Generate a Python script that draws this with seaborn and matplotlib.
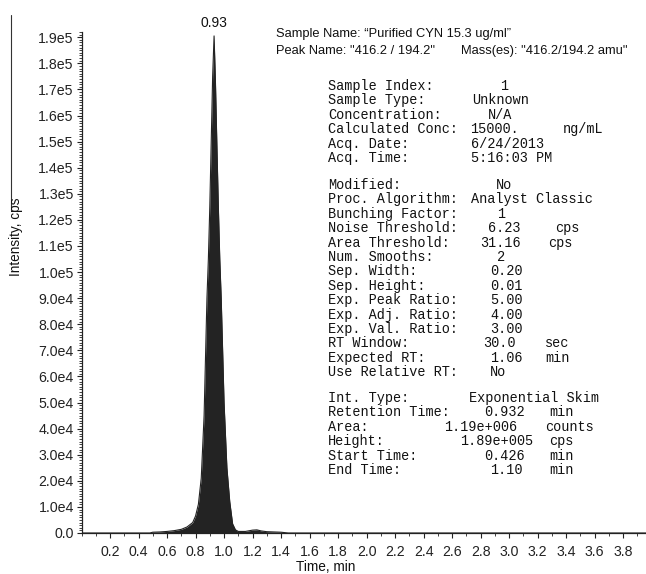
import matplotlib
matplotlib.use("Agg")
import matplotlib.pyplot as plt
import matplotlib.ticker as mticker
from matplotlib.lines import Line2D
import seaborn as sns
import pandas as pd

# Chromatogram (time in min, intensity in cps)
time_min = [0.00, 0.48, 0.50, 0.55, 0.60, 0.65, 0.70, 0.74, 0.78, 0.80,
            0.82, 0.84, 0.86, 0.88, 0.89, 0.90, 0.91, 0.92, 0.93, 0.94,
            0.95, 0.96, 0.97, 0.98, 0.99, 1.00, 1.02, 1.04, 1.06, 1.08,
            1.10, 1.15, 1.20, 1.23, 1.26, 1.30, 1.40, 1.45, 3.96]
intensity_cps = [0, 0, 300, 400, 600, 900, 1400, 2300, 4000, 6500,
                 11000, 21000, 45000, 90000, 105000, 125000, 150000, 175000, 190500, 172000,
                 148000, 125000, 105000, 90000, 70000, 50000, 25000, 12000, 3500, 1200,
                 600, 600, 1100, 1200, 800, 500, 300, 0, 0]
peak_rt = 0.93
peak_label = "0.93"

header_sample = "Sample Name: \u201cPurified CYN 15.3 ug/ml\u201d"
header_peak = 'Peak Name: "416.2 / 194.2"'
header_mass = 'Mass(es): "416.2/194.2 amu"'

# info block: label, value, value x (px), unit, unit x (px)
info_group1 = [
    ("Sample Index:", "1", 500, "", 0),
    ("Sample Type:", "Unknown", 472, "", 0),
    ("Concentration:", "N/A", 488, "", 0),
    ("Calculated Conc:", "15000.", 470, "ng/mL", 563),
    ("Acq. Date:", "6/24/2013", 471, "", 0),
    ("Acq. Time:", "5:16:03 PM", 471, "", 0),
]
info_group2 = [
    ("Modified:", "No", 496, "", 0),
    ("Proc. Algorithm:", "Analyst Classic", 471, "", 0),
    ("Bunching Factor:", "1", 497, "", 0),
    ("Noise Threshold:", "6.23", 488, "cps", 555),
    ("Area Threshold:", "31.16", 480, "cps", 548),
    ("Num. Smooths:", "2", 497, "", 0),
    ("Sep. Width:", "0.20", 490, "", 0),
    ("Sep. Height:", "0.01", 490, "", 0),
    ("Exp. Peak Ratio:", "5.00", 490, "", 0),
    ("Exp. Adj. Ratio:", "4.00", 490, "", 0),
    ("Exp. Val. Ratio:", "3.00", 490, "", 0),
    ("RT Window:", "30.0", 483, "sec", 545),
    ("Expected RT:", "1.06", 490, "min", 545),
    ("Use Relative RT:", "No", 490, "", 0),
]
info_group3 = [
    ("Int. Type:", "Exponential Skim", 469, "", 0),
    ("Retention Time:", "0.932", 484, "min", 549),
    ("Area:", "1.19e+006", 444, "counts", 545),
    ("Height:", "1.89e+005", 460, "cps", 549),
    ("Start Time:", "0.426", 484, "min", 549),
    ("End Time:", "1.10", 490, "min", 549),
]

df = pd.DataFrame({"time": time_min, "intensity": intensity_cps})

W, H = 646, 574
sns.set_style("white")
plt.rcParams["font.family"] = ["Liberation Sans", "DejaVu Sans"]
fig = plt.figure(figsize=(W / 100, H / 100), dpi=100)
ax = fig.add_axes([81.5 / W, (H - 533) / H, (W - 81.5) / W, (533 - 32) / H])

dark = "#232323"
sns.lineplot(data=df, x="time", y="intensity", ax=ax, color=dark, lw=0.8)
ax.fill_between(df["time"], df["intensity"], color=dark, lw=0)

ax.set_xlim(0, 3.96)
ax.set_ylim(0, 1.92e5)
ax.set_xlabel("")
ax.set_ylabel("")


def sci_fmt(v, pos):
    if v == 0:
        return "0.0"
    exp = len(str(int(v))) - 1
    return f"{v / 10 ** exp:.1f}e{exp}"


ax.xaxis.set_major_locator(mticker.FixedLocator([i / 10 for i in range(2, 39, 2)]))
ax.xaxis.set_major_formatter(mticker.FormatStrFormatter("%.1f"))
ax.xaxis.set_minor_locator(mticker.MultipleLocator(0.1))
ax.yaxis.set_major_locator(mticker.MultipleLocator(1e4))
ax.yaxis.set_major_formatter(mticker.FuncFormatter(sci_fmt))
ax.yaxis.set_minor_locator(mticker.MultipleLocator(1e3))
ax.tick_params(axis="both", which="major", direction="out", length=3.5, width=0.8,
               colors="#222222", labelsize=10.2, pad=2)
ax.tick_params(axis="both", which="minor", direction="out", length=2, width=0.6, colors="#222222")
ax.tick_params(axis="x", which="both", bottom=True, pad=5)
ax.tick_params(axis="y", which="both", left=True)
for s in ["top", "right"]:
    ax.spines[s].set_visible(False)
for s in ["left", "bottom"]:
    ax.spines[s].set_color("#222222")
    ax.spines[s].set_linewidth(0.9)
ax.grid(False)

ax.annotate(peak_label, (peak_rt, 1.905e5), xytext=(0, 4), textcoords="offset points",
            ha="center", va="bottom", fontsize=10, color="#111111")


def px(x, y):
    return x / W, 1 - y / H


fig.text(*px(16.5, 237), "Intensity, cps", rotation=90, ha="center", va="center",
         fontsize=9.8, color="#111111")
fig.text(*px(326, 567), "Time, min", ha="center", va="center", fontsize=9.8, color="#111111")
fig.add_artist(Line2D([11 / W, 11 / W], [1 - 15 / H, 1 - 210 / H], color="#333333", lw=0.8))

fig.text(*px(276, 34), header_sample, ha="left", va="center", fontsize=9.3, color="#111111")
fig.text(*px(276, 51), header_peak, ha="left", va="center", fontsize=9.3, color="#111111")
fig.text(*px(461, 51), header_mass, ha="left", va="center", fontsize=9.3, color="#111111")

mono = dict(family="Liberation Mono", fontsize=9.75, color="#111111", ha="left", va="center")
for rows, y0 in [(info_group1, 86), (info_group2, 185), (info_group3, 398)]:
    for i, (lab, val, vx, unit, ux) in enumerate(rows):
        y = y0 + i * 14.4
        fig.text(*px(328, y), lab, **mono)
        fig.text(*px(vx, y), val, **mono)
        if unit:
            fig.text(*px(ux, y), unit, **mono)

fig.savefig("out.png", dpi=100)
